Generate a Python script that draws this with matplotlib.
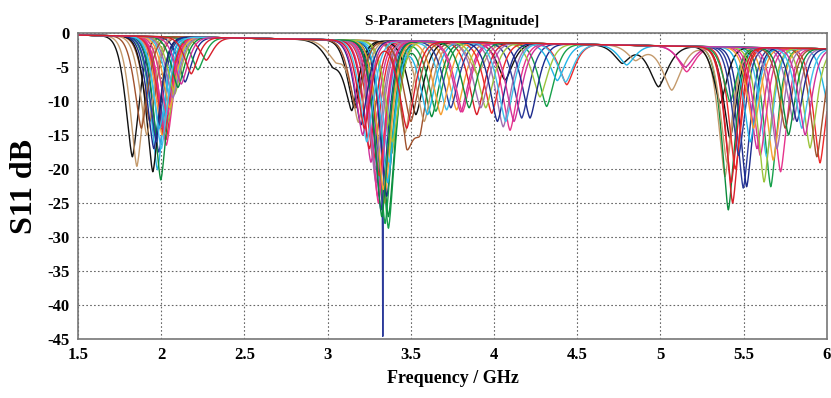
import numpy as np
import matplotlib
matplotlib.use("Agg")
import matplotlib.pyplot as plt

plt.rcParams['axes.unicode_minus'] = False

# resonance minima, one entry per sweep curve
# band 1 (1.8 - 2.3 GHz)
f1 = [1.826, 1.853, 2.027, 1.963, 1.985, 1.977, 2.030, 2.005, 2.040, 2.010, 1.930, 1.997, 2.143, 2.060, 2.020, 2.270,
      1.949, 1.913, 2.015, 2.220, 1.970, 1.990, 2.035, 2.050, 2.080, 2.070, 1.880, 2.100, 1.955, 2.000, 2.120, 2.180]
d1 = [-18.2, -19.6, -15.7, -15.0, -17.5, -20.1, -16.5, -15.0, -13.0, -14.0, -13.0, -21.6, -7.2, -10.0, -14.5, -4.0,
      -20.4, -15.0, -15.0, -5.4, -16.0, -14.0, -12.0, -11.0, -9.0, -9.5, -14.0, -8.0, -17.0, -17.0, -7.5, -6.0]
# band 2 (3.1 - 3.5 GHz)
f2 = [3.160, 3.465, 3.275, 3.365, 3.331, 3.315, 3.300, 3.340, 3.385, 3.290, 3.475, 3.365, 3.355, 3.370, 3.260, 3.250,
      3.145, 3.185, 3.310, 3.345, 3.320, 3.360, 3.305, 3.335, 3.390, 3.285, 3.170, 3.325, 3.200, 3.235, 3.210, 3.220]
d2 = [-11.0, -14.7, -18.7, -28.7, -25.0, -22.0, -24.0, -25.0, -17.7, -22.0, -14.0, -27.0, -24.0, -19.0, -19.0, -17.0,
      -10.8, -12.8, -21.0, -28.0, -26.0, -22.0, -25.0, -23.0, -16.0, -20.0, -11.0, -27.0, -13.5, -16.0, -15.0, -14.0]
spike2 = [0, 0, 0, 0, -19.6, 0, 0, 0, 0, 0, 0, 0, 0, 0, 0, 0,
          0, 0, 0, 0, 0, 0, 0, 0, 0, 0, 0, 0, 0, 0, 0, 0]
# band 3 (3.45 - 4.45 GHz)
f3 = [4.066, 3.900, 4.437, 4.316, 4.166, 4.380, 4.096, 3.775, 4.276, 4.055, 3.555, 3.625, 4.216, 3.715, 3.800, 3.896,
      3.530, 3.580, 3.986, 3.650, 3.740, 3.600, 3.810, 3.680, 3.950, 3.920, 3.500, 3.850, 4.020, 4.070, 4.120, 3.475]
d3 = [-6.9, -6.0, -7.6, -10.8, -12.5, -7.0, -14.3, -11.3, -9.4, -13.8, -12.3, -12.3, -12.5, -11.3, -11.6, -12.0,
      -12.0, -13.0, -11.8, -11.5, -11.0, -12.0, -11.6, -12.0, -11.0, -11.0, -13.0, -11.0, -13.0, -13.0, -13.0, -14.0]
# band 4 (5.3 - 6.0 GHz)
f4 = [5.418, 5.388, 5.959, 5.663, 5.498, 6.020, 5.722, 5.678, 5.899, 5.798, 5.940, 5.408, 5.518, 5.638, 5.580, 5.434,
      5.360, 5.400, 5.450, 5.418, 5.470, 5.540, 5.600, 5.560, 5.623, 5.700, 5.750, 5.770, 5.820, 5.850, 5.870, 5.425]
d4 = [-15.5, -21.1, -19.1, -22.6, -22.8, -12.0, -20.4, -18.7, -16.9, -12.8, -18.2, -26.0, -22.6, -18.2, -17.0, -25.0,
      -10.3, -19.0, -20.0, -10.1, -18.0, -16.0, -18.0, -14.0, -21.9, -17.0, -14.0, -15.0, -13.0, -14.0, -15.0, -22.0]
# weak extra minima (nan = none)
nan = np.nan
f5 = [4.770, 4.850, nan, nan, nan, 4.797, 5.158, nan, nan, nan, nan, nan, nan, 4.430, 5.150, nan,
      nan, nan, nan, nan, nan, nan, nan, nan, nan, nan, nan, nan, nan, nan, nan, nan]
d5 = [-4.4, -4.0, nan, nan, nan, -4.7, -5.7, nan, nan, nan, nan, nan, nan, -7.2, -5.0, nan,
      nan, nan, nan, nan, nan, nan, nan, nan, nan, nan, nan, nan, nan, nan, nan, nan]
f6 = [4.988, 5.068, nan, nan, nan, nan, nan, nan, nan, nan, nan, nan, nan, nan, nan, nan,
      3.030, 3.050, nan, nan, nan, nan, nan, nan, nan, nan, nan, nan, nan, nan, nan, nan]
d6 = [-7.9, -8.4, nan, nan, nan, nan, nan, nan, nan, nan, nan, nan, nan, nan, nan, nan,
      -4.4, -4.0, nan, nan, nan, nan, nan, nan, nan, nan, nan, nan, nan, nan, nan, nan]

colors = ['#111111', '#c49a6c', '#ee2a2a', '#16a04a', '#2b3a9a', '#22b4e6', '#e6338c', '#f5a034',
          '#9cc43c', '#a070b0', '#a0522d', '#0b8c3c', '#1c2a8c', '#3ec0ea', '#d0309a', '#d81e2a']

freq = np.linspace(1.5, 6.0, 9001)


def base(f):
    return -0.3 - 0.45 * (f - 1.5)


def dip(f, f0, depth, w):
    if np.isnan(f0) or depth == 0:
        return 0.0
    amp = depth - base(f0)
    return amp * np.exp(-(np.abs(f - f0) / w) ** 1.5)


fig = plt.figure(figsize=(8.31, 3.98), dpi=100)
ax = fig.add_axes([0.094, 0.148, 0.901, 0.769])

for i in range(len(f1)):
    s = base(freq)
    s = s + dip(freq, f1[i], d1[i], 0.058)
    s = s + dip(freq, f2[i], d2[i], 0.06)
    if spike2[i]:
        s = s + spike2[i] * np.exp(-(np.abs(freq - f2[i]) / 0.0015) ** 1.5)
    s = s + dip(freq, f3[i], d3[i], 0.068)
    s = s + dip(freq, f4[i], d4[i], 0.058)
    s = s + dip(freq, f5[i], d5[i], 0.07)
    s = s + dip(freq, f6[i], d6[i], 0.08)
    ax.plot(freq, s, color=colors[i % len(colors)], lw=1.0)

serif = ['Liberation Serif', 'DejaVu Serif']
ax.set_xlim(1.5, 6)
ax.set_ylim(-45, 0)
ax.set_xticks(np.arange(1.5, 6.01, 0.5))
ax.set_xticklabels(['1.5', '2', '2.5', '3', '3.5', '4', '4.5', '5', '5.5', '6'])
ax.set_yticks(np.arange(-45, 1, 5))
ax.grid(True, color='#666666', ls=(0, (1.5, 2)), lw=0.8)
for sp in ax.spines.values():
    sp.set_color('#777777')
    sp.set_linewidth(1.2)
ax.tick_params(length=0, pad=6)
for lab in ax.get_xticklabels() + ax.get_yticklabels():
    lab.set_family(serif)
    lab.set_fontweight('bold')
    lab.set_fontsize(12)

ax.set_title('S-Parameters [Magnitude]', family=serif, fontweight='bold', fontsize=11, pad=6)
ax.set_xlabel('Frequency / GHz', family=serif, fontweight='bold', fontsize=13, labelpad=5)
ax.set_ylabel('S11 dB', family=serif, fontweight='bold', fontsize=23, labelpad=6)

fig.savefig('out.png', dpi=100)
